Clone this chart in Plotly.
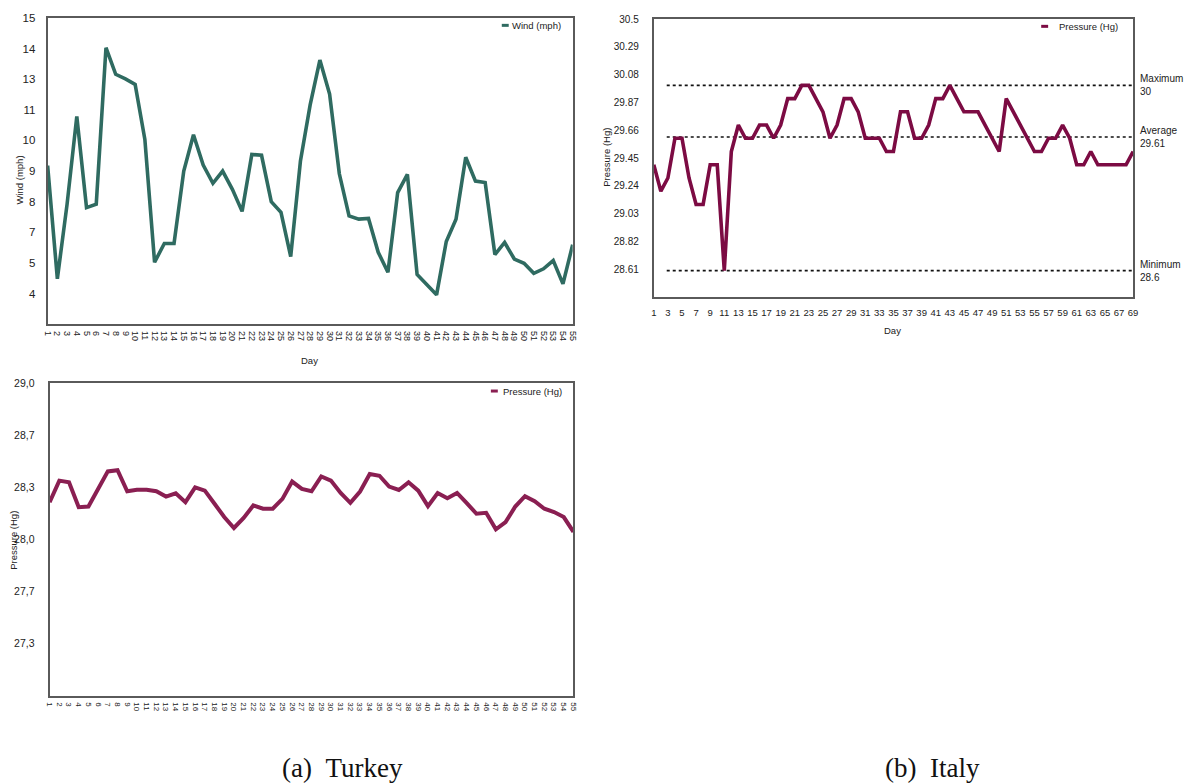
import numpy as np
import plotly.graph_objects as go

W, H = 1187, 784

# ---- data -------------------------------------------------------------
turkey_days = list(range(1, 56))
turkey_wind = [9.11, 4.59, 7.57, 11.07, 7.43, 7.57, 13.81, 12.75, 12.57, 12.35,
               10.15, 5.25, 6.0, 6.0, 8.89, 10.34, 9.13, 8.40, 8.89, 8.16,
               7.28, 9.55, 9.52, 7.67, 7.24, 5.48, 9.29, 11.53, 13.32, 11.96,
               8.78, 7.10, 6.97, 7.0, 5.65, 4.85, 8.03, 8.76, 4.76, 4.37,
               3.95, 6.08, 6.97, 9.44, 8.49, 8.43, 5.56, 6.04, 5.38, 5.21,
               4.81, 4.99, 5.32, 4.39, 5.95]
turkey_pressure = [28.238, 28.376, 28.365, 28.206, 28.21, 28.32, 28.435, 28.443, 28.308, 28.318,
                   28.318, 28.308, 28.274, 28.295, 28.238, 28.333, 28.312, 28.228, 28.143, 28.073,
                   28.137, 28.217, 28.196, 28.196, 28.259, 28.370, 28.323, 28.308, 28.403, 28.376,
                   28.297, 28.234, 28.306, 28.418, 28.407, 28.338, 28.316, 28.365, 28.312, 28.213,
                   28.297, 28.263, 28.297, 28.232, 28.164, 28.17, 28.065, 28.111, 28.21, 28.276,
                   28.244, 28.196, 28.175, 28.143, 28.048]

italy_days = list(range(1, 70))
italy_pressure = [29.4, 29.2, 29.3, 29.6, 29.6, 29.3, 29.1, 29.1, 29.4, 29.4,
                  28.6, 29.5, 29.7, 29.6, 29.6, 29.7, 29.7, 29.6, 29.7, 29.9,
                  29.9, 30.0, 30.0, 29.9, 29.8, 29.6, 29.7, 29.9, 29.9, 29.8,
                  29.6, 29.6, 29.6, 29.5, 29.5, 29.8, 29.8, 29.6, 29.6, 29.7,
                  29.9, 29.9, 30.0, 29.9, 29.8, 29.8, 29.8, 29.7, 29.6, 29.5,
                  29.9, 29.8, 29.7, 29.6, 29.5, 29.5, 29.6, 29.6, 29.7, 29.6,
                  29.4, 29.4, 29.5, 29.4, 29.4, 29.4, 29.4, 29.4, 29.5]

wind_tick_text = ["15", "14", "13", "11", "10", "9", "8", "7", "5", "4"]
turkey_p_tick_text = ["29,0", "28,7", "28,3", "28,0", "27,7", "27,3"]
italy_p_tick_text = ["30.5", "30.29", "30.08", "29.87", "29.66",
                     "29.45", "29.24", "29.03", "28.82", "28.61"]

italy_ref_names = ["Maximum", "Average", "Minimum"]
italy_ref_values = [30, 29.61, 28.6]

# ---- styling ----------------------------------------------------------
WIND_COLOR = "#2f6b61"
TR_P_COLOR = "#8a1f52"
IT_P_COLOR = "#7c0b43"
FRAME = "#5a5a5a"
TXT = "#222222"
SANS = "Liberation Sans, Arial, sans-serif"


def px(x):
    return x / W


def py(y):
    return 1 - y / H


fig = go.Figure()

fig.add_trace(go.Scatter(x=turkey_days, y=turkey_wind, mode="lines", name="Wind (mph)",
                         line=dict(color=WIND_COLOR, width=3.6), xaxis="x", yaxis="y",
                         showlegend=False))
fig.add_trace(go.Scatter(x=turkey_days, y=turkey_pressure, mode="lines", name="Pressure (Hg)",
                         line=dict(color=TR_P_COLOR, width=4), xaxis="x2", yaxis="y2",
                         showlegend=False))
fig.add_trace(go.Scatter(x=italy_days, y=italy_pressure, mode="lines", name="Pressure (Hg)",
                         line=dict(color=IT_P_COLOR, width=3.6), xaxis="x3", yaxis="y3",
                         showlegend=False))

frame = dict(showline=True, linecolor=FRAME, linewidth=2, mirror=True,
             showgrid=False, zeroline=False)

# wind: ten evenly spaced labels from 4 to 15
wind_step = (15 - 4) / 9
wind_ticks = np.linspace(15, 4, 10)
# turkey pressure: thirds from 27 to 29
tp_ticks = np.linspace(29, 27 + 1 / 3, 6)
# italy pressure: steps of 0.21
it_ticks = np.round(30.5 - 0.21 * np.arange(10), 2)

fig.update_layout(
    width=W, height=H,
    margin=dict(l=0, r=0, t=0, b=0),
    paper_bgcolor="white", plot_bgcolor="white",
    font=dict(family=SANS, color=TXT, size=11),
    xaxis=dict(domain=[px(43), px(572.5)], anchor="y", range=[1, 55],
               tickmode="array", tickvals=turkey_days, ticktext=[str(d) for d in turkey_days],
               tickangle=90, tickfont=dict(size=9), ticks="", ticklabelstandoff=3, **frame),
    yaxis=dict(domain=[py(320.7), py(12)], anchor="x", range=[4 - wind_step, 15],
               tickmode="array", tickvals=wind_ticks, ticktext=wind_tick_text,
               tickfont=dict(size=11.5), ticks="", ticklabelstandoff=8, **frame),
    xaxis2=dict(domain=[px(45), px(573.3)], anchor="y2", range=[1, 55],
                tickmode="array", tickvals=turkey_days, ticktext=[str(d) for d in turkey_days],
                tickangle=90, tickfont=dict(size=8), ticks="", ticklabelstandoff=3, **frame),
    yaxis2=dict(domain=[py(695), py(380)], anchor="x2", range=[27, 29],
                tickmode="array", tickvals=tp_ticks, ticktext=turkey_p_tick_text,
                tickfont=dict(size=10.5), ticks="", ticklabelstandoff=11, **frame),
    xaxis3=dict(domain=[px(654.3), px(1137.7)], anchor="y3", range=[1, 69],
                tickmode="array", tickvals=italy_days[::2], ticktext=[str(d) for d in italy_days[::2]],
                tickangle=0, tickfont=dict(size=9.5), ticks="", ticklabelstandoff=6, **frame),
    yaxis3=dict(domain=[py(293.3), py(13.3)], anchor="x3", range=[28.4, 30.5],
                tickmode="array", tickvals=it_ticks, ticktext=italy_p_tick_text,
                tickfont=dict(size=10), ticks="", ticklabelstandoff=11, **frame),
)

# reference levels on the Italy panel
for name, val in zip(italy_ref_names, italy_ref_values):
    fig.add_shape(type="line", xref="x3 domain", yref="y3", x0=0.027, x1=1, y0=val, y1=val,
                  line=dict(color="#111111", width=1.6, dash="dot"), layer="below")
    fig.add_annotation(xref="paper", yref="y3", x=px(1143), y=val, text=f"{name}<br>{val:g}",
                       showarrow=False, xanchor="left", yanchor="middle", align="left",
                       font=dict(size=10, family=SANS, color=TXT))

# legend keys: label right edge, key left edge, vertical centre (pixels)
legend_keys = [
    ("Wind (mph)", WIND_COLOR, 563, 501, 19.5),
    ("Pressure (Hg)", TR_P_COLOR, 564, 490, 388),
    ("Pressure (Hg)", IT_P_COLOR, 1124, 1045, 20.5),
]
for label, color, rx, kx, ly in legend_keys:
    fig.add_annotation(xref="paper", yref="paper", x=px(rx), y=py(ly), text=label,
                       showarrow=False, xanchor="right", yanchor="middle",
                       font=dict(size=9.5, family=SANS, color=TXT))
    fig.add_shape(type="line", xref="paper", yref="paper", x0=px(kx), x1=px(kx + 7),
                  y0=py(ly), y1=py(ly), line=dict(color=color, width=3))

# axis titles
axis_titles = [
    ("Wind (mph)", 15, 175, -90),
    ("Day", 307, 357, 0),
    ("Pressure (Hg)", 9, 538, -90),
    ("Pressure (Hg)", 607, 152, -90),
    ("Day", 895, 327, 0),
]
for text, tx, ty, ang in axis_titles:
    fig.add_annotation(xref="paper", yref="paper", x=px(tx), y=py(ty), text=text,
                       showarrow=False, textangle=ang, xanchor="center", yanchor="middle",
                       font=dict(size=9.5, family=SANS, color=TXT))

# panel captions
for text, cx in [("(a)&nbsp;&nbsp;Turkey", 340), ("(b)&nbsp;&nbsp;Italy", 935)]:
    fig.add_annotation(xref="paper", yref="paper", x=px(cx), y=py(768), text=text,
                       showarrow=False, xanchor="center", yanchor="middle",
                       font=dict(size=27, family="Liberation Serif, serif", color="#111111"))

fig.write_html("out.html")
